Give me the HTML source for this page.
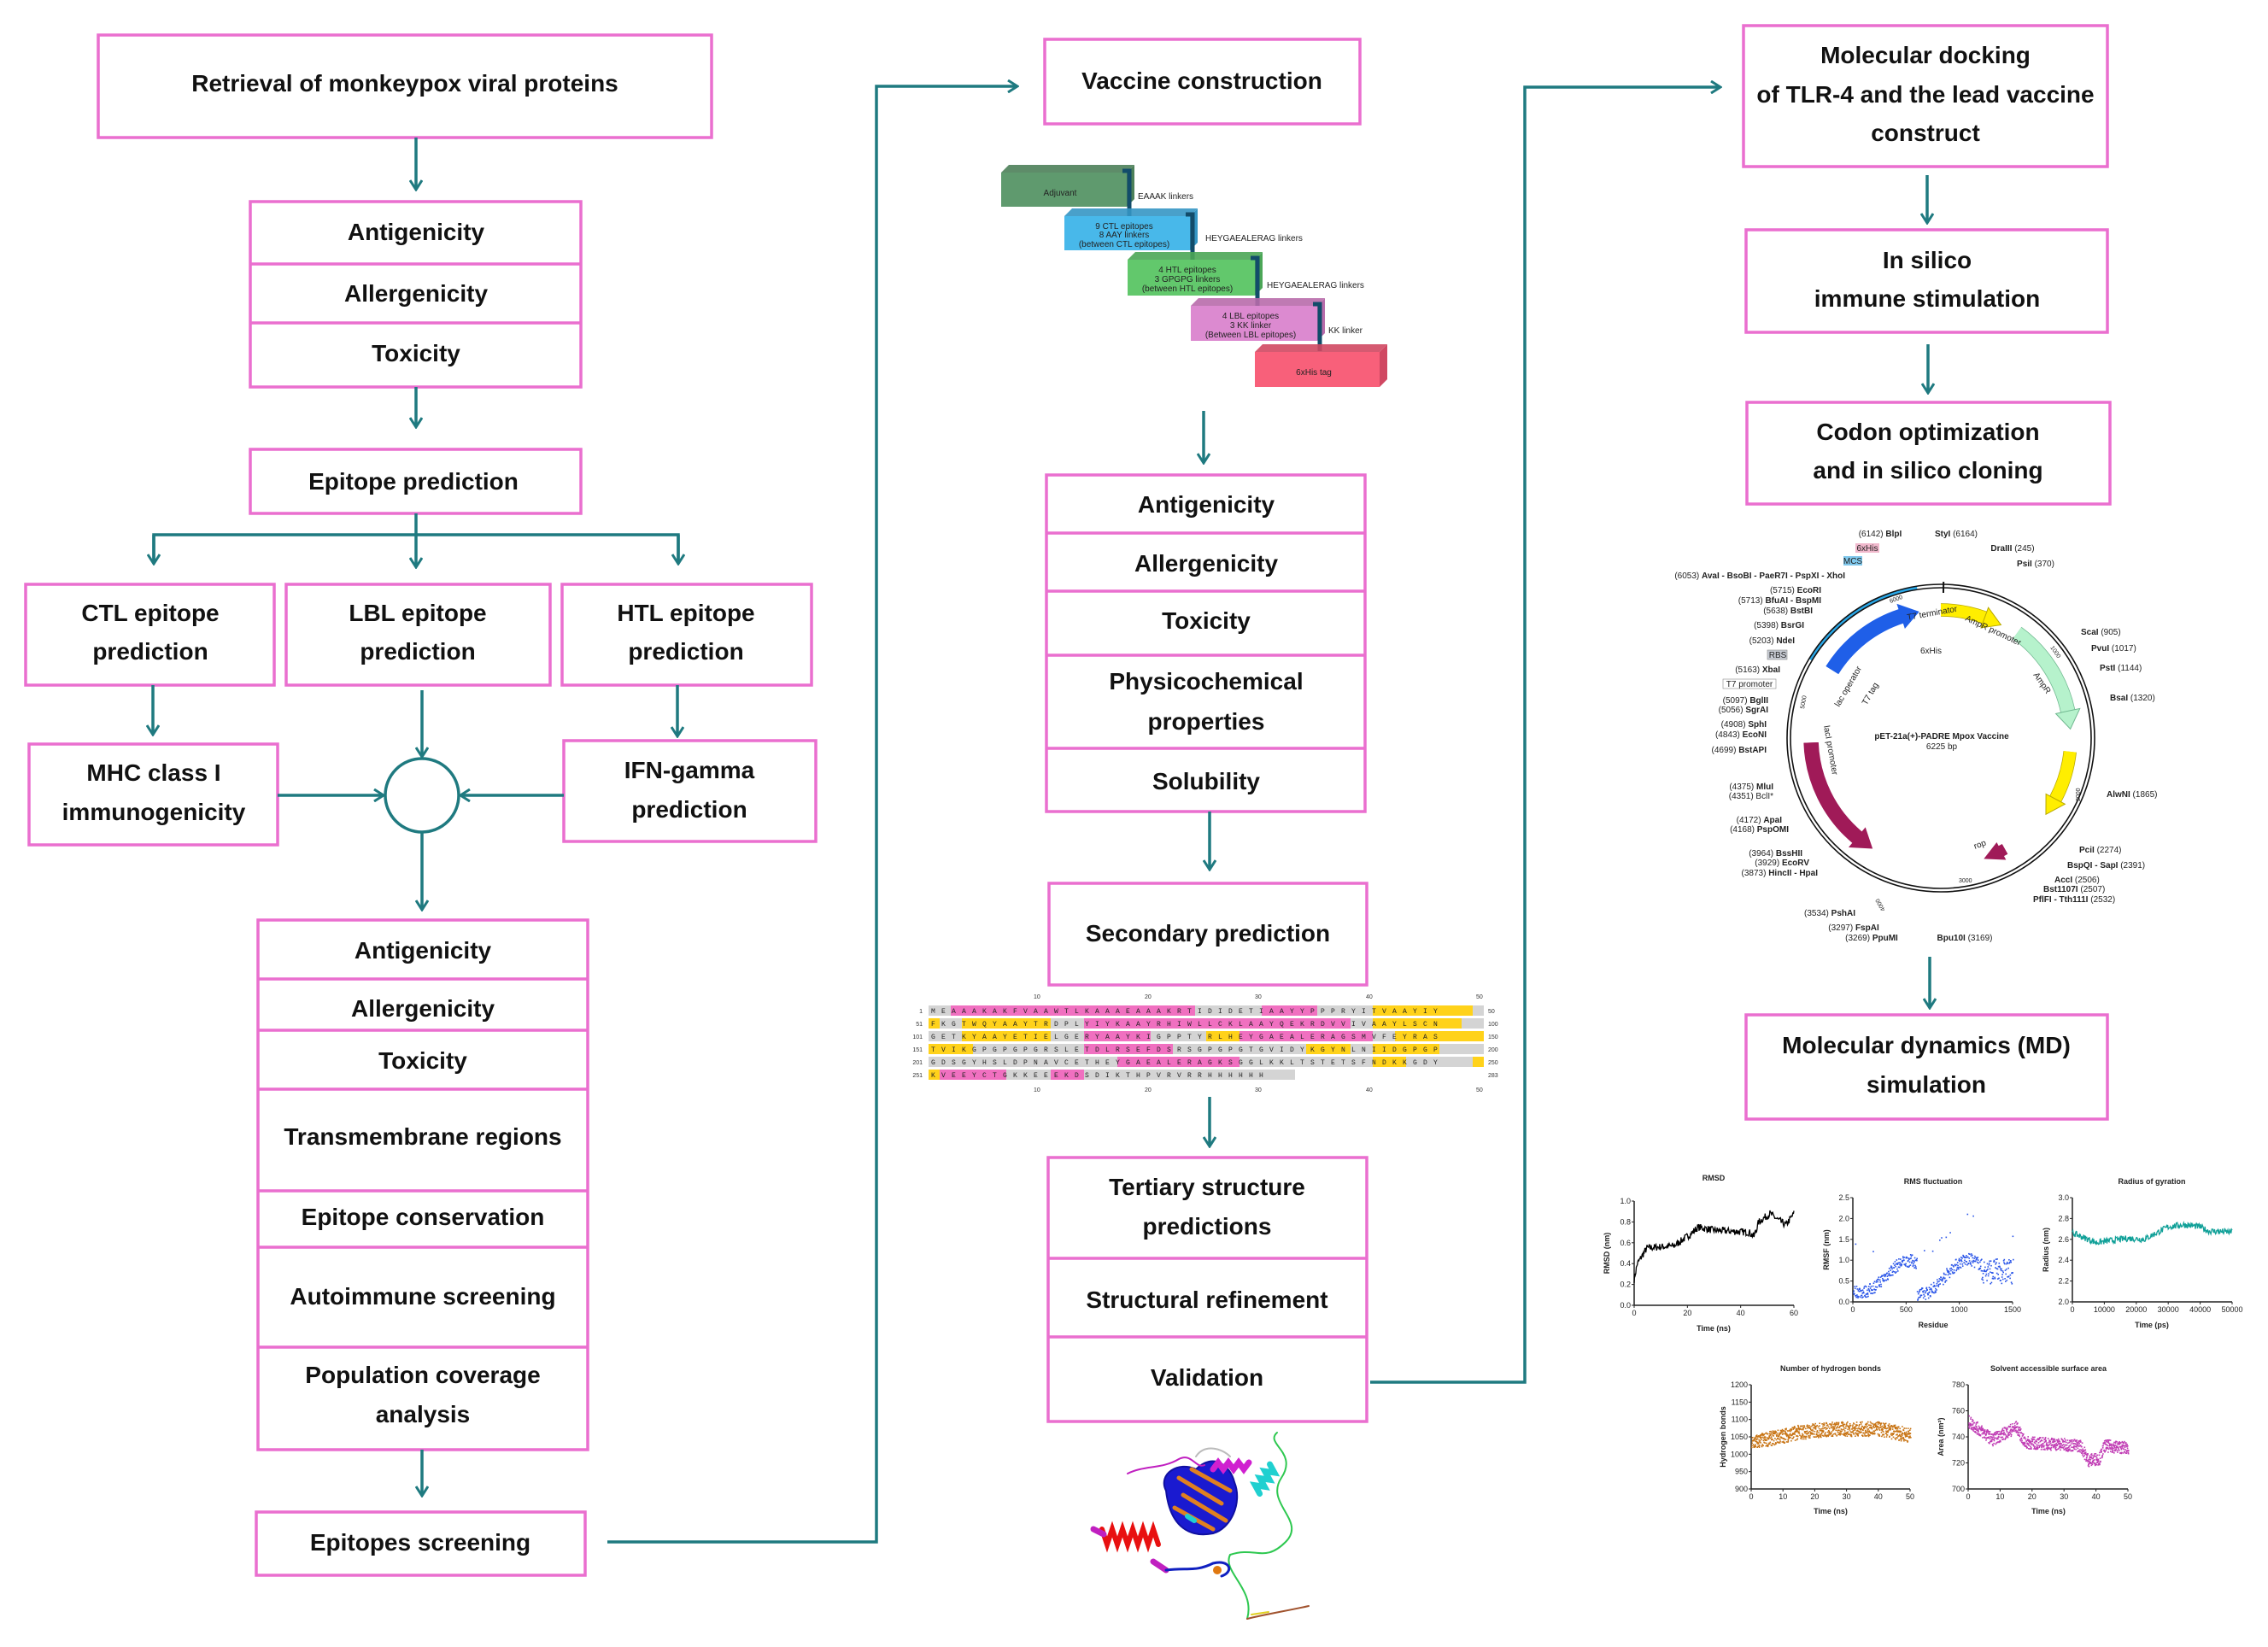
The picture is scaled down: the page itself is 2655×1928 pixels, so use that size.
<!DOCTYPE html>
<html><head><meta charset="utf-8">
<style>
html,body{margin:0;padding:0;background:#fff;}
svg{display:block;}
.b{fill:#fff;stroke:#ea6fcf;stroke-width:3.5;}
.d{stroke:#ea6fcf;stroke-width:3.5;}
.t{font-family:"Liberation Sans",Arial,sans-serif;font-weight:bold;font-size:28px;fill:#111;text-anchor:middle;}
.c{stroke:#1f7a80;stroke-width:3.5;fill:none;}
.s{font-family:"Liberation Sans",Arial,sans-serif;font-size:10px;fill:#222;}
.sb{font-family:"Liberation Sans",Arial,sans-serif;font-size:10px;font-weight:bold;fill:#222;}
.ax{font-family:"Liberation Sans",Arial,sans-serif;font-size:9px;fill:#222;}
.seq{font-family:"Liberation Mono",monospace;font-size:8px;fill:#222;letter-spacing:7.2px;}
.num{font-family:"Liberation Sans",Arial,sans-serif;font-size:7px;fill:#333;}
</style></head>
<body>
<svg id="S" width="2655" height="1928" viewBox="0 0 2655 1928" xmlns="http://www.w3.org/2000/svg">
<defs>
<marker id="a" viewBox="0 0 16 16" refX="14" refY="8" markerWidth="16" markerHeight="16" markerUnits="userSpaceOnUse" orient="auto">
<path d="M3,1 L14,8 L3,15" fill="none" stroke="#1f7a80" stroke-width="3"/>
</marker>
</defs>

<!-- ===== LEFT COLUMN ===== -->
<rect class="b" x="115" y="41" width="718" height="120"/>
<text class="t" x="474" y="107">Retrieval of monkeypox viral proteins</text>
<path class="c" d="M487,161 V222" marker-end="url(#a)"/>

<rect class="b" x="293" y="236" width="387" height="217"/>
<line class="d" x1="293" y1="309" x2="680" y2="309"/>
<line class="d" x1="293" y1="378" x2="680" y2="378"/>
<text class="t" x="487" y="281">Antigenicity</text>
<text class="t" x="487" y="353">Allergenicity</text>
<text class="t" x="487" y="423">Toxicity</text>
<path class="c" d="M487,453 V500" marker-end="url(#a)"/>

<rect class="b" x="293" y="526" width="387" height="75"/>
<text class="t" x="484" y="573">Epitope prediction</text>
<path class="c" d="M487,601 V664" marker-end="url(#a)"/>
<path class="c" d="M180,660 V626 H794 V660" />
<path class="c" d="M180,626 V660" marker-end="url(#a)"/>
<path class="c" d="M794,626 V660" marker-end="url(#a)"/>

<rect class="b" x="30" y="684" width="291" height="118"/>
<text class="t" x="176" y="727">CTL epitope</text>
<text class="t" x="176" y="772">prediction</text>
<rect class="b" x="335" y="684" width="309" height="118"/>
<text class="t" x="489" y="727">LBL epitope</text>
<text class="t" x="489" y="772">prediction</text>
<rect class="b" x="658" y="684" width="292" height="118"/>
<text class="t" x="803" y="727">HTL epitope</text>
<text class="t" x="803" y="772">prediction</text>

<path class="c" d="M179,802 V860" marker-end="url(#a)"/>
<path class="c" d="M494,808 V886" marker-end="url(#a)"/>
<path class="c" d="M793,802 V862" marker-end="url(#a)"/>

<rect class="b" x="34" y="871" width="291" height="118"/>
<text class="t" x="180" y="914">MHC class I</text>
<text class="t" x="180" y="960">immunogenicity</text>
<rect class="b" x="660" y="867" width="295" height="118"/>
<text class="t" x="807" y="911">IFN-gamma</text>
<text class="t" x="807" y="957">prediction</text>

<circle class="c" cx="494" cy="931" r="43"/>
<path class="c" d="M325,931 H449" marker-end="url(#a)"/>
<path class="c" d="M660,931 H539" marker-end="url(#a)"/>
<path class="c" d="M494,974 V1065" marker-end="url(#a)"/>

<rect class="b" x="302" y="1077" width="386" height="620"/>
<line class="d" x1="302" y1="1146" x2="688" y2="1146"/>
<line class="d" x1="302" y1="1206" x2="688" y2="1206"/>
<line class="d" x1="302" y1="1275" x2="688" y2="1275"/>
<line class="d" x1="302" y1="1394" x2="688" y2="1394"/>
<line class="d" x1="302" y1="1460" x2="688" y2="1460"/>
<line class="d" x1="302" y1="1577" x2="688" y2="1577"/>
<text class="t" x="495" y="1122">Antigenicity</text>
<text class="t" x="495" y="1190">Allergenicity</text>
<text class="t" x="495" y="1251">Toxicity</text>
<text class="t" x="495" y="1340">Transmembrane regions</text>
<text class="t" x="495" y="1434">Epitope conservation</text>
<text class="t" x="495" y="1527">Autoimmune screening</text>
<text class="t" x="495" y="1619">Population coverage</text>
<text class="t" x="495" y="1665">analysis</text>
<path class="c" d="M494,1697 V1751" marker-end="url(#a)"/>

<rect class="b" x="300" y="1770" width="385" height="74"/>
<text class="t" x="492" y="1815">Epitopes screening</text>
<path class="c" d="M711,1805 H1026 V101 H1191" marker-end="url(#a)"/>

<!-- ===== MIDDLE COLUMN ===== -->
<rect class="b" x="1223" y="46" width="369" height="99"/>
<text class="t" x="1407" y="104">Vaccine construction</text>

<g id="vb"></g>
<text class="s" x="1332" y="233" font-size="8">EAAAK linkers</text>
<text class="s" x="1411" y="282" font-size="8">HEYGAEALERAG linkers</text>
<text class="s" x="1483" y="337" font-size="8">HEYGAEALERAG linkers</text>
<text class="s" x="1555" y="390" font-size="8">KK linker</text>
<text class="s" x="1241" y="229" font-size="8" text-anchor="middle">Adjuvant</text>
<text class="s" x="1316" y="268" font-size="7" text-anchor="middle">9 CTL epitopes</text>
<text class="s" x="1316" y="278" font-size="7" text-anchor="middle">8 AAY linkers</text>
<text class="s" x="1316" y="289" font-size="7" text-anchor="middle">(between CTL epitopes)</text>
<text class="s" x="1390" y="319" font-size="7" text-anchor="middle">4 HTL epitopes</text>
<text class="s" x="1390" y="330" font-size="7" text-anchor="middle">3 GPGPG linkers</text>
<text class="s" x="1390" y="341" font-size="7" text-anchor="middle">(between HTL epitopes)</text>
<text class="s" x="1464" y="373" font-size="7" text-anchor="middle">4 LBL epitopes</text>
<text class="s" x="1464" y="384" font-size="7" text-anchor="middle">3 KK linker</text>
<text class="s" x="1464" y="395" font-size="7" text-anchor="middle">(Between LBL epitopes)</text>
<text class="s" x="1538" y="439" font-size="7" text-anchor="middle">6xHis tag</text>

<path class="c" d="M1409,481 V542" marker-end="url(#a)"/>

<rect class="b" x="1225" y="556" width="373" height="394"/>
<line class="d" x1="1225" y1="624" x2="1598" y2="624"/>
<line class="d" x1="1225" y1="692" x2="1598" y2="692"/>
<line class="d" x1="1225" y1="767" x2="1598" y2="767"/>
<line class="d" x1="1225" y1="876" x2="1598" y2="876"/>
<text class="t" x="1412" y="600">Antigenicity</text>
<text class="t" x="1412" y="669">Allergenicity</text>
<text class="t" x="1412" y="736">Toxicity</text>
<text class="t" x="1412" y="807">Physicochemical</text>
<text class="t" x="1412" y="854">properties</text>
<text class="t" x="1412" y="924">Solubility</text>
<path class="c" d="M1416,950 V1018" marker-end="url(#a)"/>

<rect class="b" x="1228" y="1034" width="372" height="119"/>
<text class="t" x="1414" y="1102">Secondary  prediction</text>

<g id="sq"></g>
<g class="num">
<text x="1210" y="1169">10</text><text x="1340" y="1169">20</text><text x="1469" y="1169">30</text><text x="1599" y="1169">40</text><text x="1728" y="1169">50</text>
<text x="1210" y="1278">10</text><text x="1340" y="1278">20</text><text x="1469" y="1278">30</text><text x="1599" y="1278">40</text><text x="1728" y="1278">50</text>
<text x="1080" y="1186" text-anchor="end">1</text><text x="1080" y="1201" text-anchor="end">51</text><text x="1080" y="1216" text-anchor="end">101</text><text x="1080" y="1231" text-anchor="end">151</text><text x="1080" y="1246" text-anchor="end">201</text><text x="1080" y="1261" text-anchor="end">251</text>
<text x="1742" y="1186">50</text><text x="1742" y="1201">100</text><text x="1742" y="1216">150</text><text x="1742" y="1231">200</text><text x="1742" y="1246">250</text><text x="1742" y="1261">283</text>
</g>
<g class="seq">
<text x="1090" y="1186">MEAAAKAKFVAAWTLKAAAEAAAKRTIDIDETIAAYYPPPRYITVAAYIY</text>
<text x="1090" y="1201">FKGTWQYAAYTRDPLYIYKAAYRHIWLLCKLAAYQEKRDVVIVAAYLSCN</text>
<text x="1090" y="1216">GETKYAAYETIELGERYAAYKIGPPTYRLHEYGAEALERAGSMVFEYRAS</text>
<text x="1090" y="1231">TVIKGPGPGPGRSLETDLRSEFDSRSGPGPGTGVIDYKGYNLNIIDGPGP</text>
<text x="1090" y="1246">GDSGYHSLDPNAVCETHEYGAEALERAGKSGGLKKLTSTETSFNDKKGDY</text>
<text x="1090" y="1261">KVEEYCTGKKEEEKDSDIKTHPVRVRRHHHHHH</text>
</g>

<path class="c" d="M1416,1284 V1342" marker-end="url(#a)"/>

<rect class="b" x="1227" y="1355" width="373" height="309"/>
<line class="d" x1="1227" y1="1473" x2="1600" y2="1473"/>
<line class="d" x1="1227" y1="1565" x2="1600" y2="1565"/>
<text class="t" x="1413" y="1399">Tertiary structure</text>
<text class="t" x="1413" y="1445">predictions</text>
<text class="t" x="1413" y="1531">Structural refinement</text>
<text class="t" x="1413" y="1622">Validation</text>
<path class="c" d="M1604,1618 H1785 V102 H2014" marker-end="url(#a)"/>

<!-- protein -->
<g fill="none" stroke-linecap="round">
<path d="M1495,1677 C1480,1690 1520,1700 1500,1730 C1480,1760 1530,1780 1505,1805 C1480,1830 1470,1810 1440,1820 C1430,1840 1470,1860 1460,1895" stroke="#2ec850" stroke-width="2"/>
<path d="M1460,1895 C1480,1890 1510,1885 1532,1880" stroke="#a0522d" stroke-width="2"/>
<path d="M1465,1890 L1485,1887" stroke="#e0d020" stroke-width="2"/>
<path d="M1290,1790 l6,18 l6,-18 l6,18 l6,-18 l6,18 l6,-18 l6,18 l6,-18 l6,18 l6,-18 l6,18" stroke="#e81010" stroke-width="6"/>
<path d="M1280,1790 l12,6 M1350,1828 l15,10" stroke="#c020c0" stroke-width="7"/>
<path d="M1365,1838 C1390,1835 1400,1840 1420,1830 C1440,1825 1445,1840 1430,1845" stroke="#1020c0" stroke-width="3"/>
<circle cx="1425" cy="1838" r="5" fill="#e07810"/>
<path d="M1365,1745 C1355,1725 1380,1710 1400,1720 C1420,1700 1440,1715 1445,1735 C1455,1760 1440,1790 1420,1795 C1395,1800 1370,1790 1365,1745Z" fill="#1a1ad0" stroke="#1010a0" stroke-width="2"/>
<path d="M1380,1730 L1430,1760 M1385,1750 L1435,1780 M1375,1765 L1420,1790 M1395,1720 L1440,1745" stroke="#e08020" stroke-width="5"/>
<path d="M1320,1725 C1340,1715 1360,1720 1380,1708 C1395,1700 1400,1720 1410,1715" stroke="#c020c0" stroke-width="2"/>
<path d="M1420,1720 l6,-8 l6,8 l6,-8 l6,8 l6,-8 l6,8 l6,-8" stroke="#d020d0" stroke-width="7"/>
<path d="M1465,1740 l5,-10 l5,10 l5,-10 l5,10 l5,-10 l5,10 l5,-10" stroke="#20d0d0" stroke-width="7" transform="rotate(-55 1478 1735)"/>
<path d="M1400,1705 C1410,1690 1430,1695 1440,1705" stroke="#bbbbbb" stroke-width="2"/>
<path d="M1390,1775 l8,5" stroke="#20d0d0" stroke-width="6"/>
</g>

<!-- ===== RIGHT COLUMN ===== -->
<rect class="b" x="2041" y="30" width="426" height="165"/>
<text class="t" x="2254" y="74">Molecular docking</text>
<text class="t" x="2254" y="120">of TLR-4 and the lead vaccine</text>
<text class="t" x="2254" y="165">construct</text>
<path class="c" d="M2256,205 V261" marker-end="url(#a)"/>
<rect class="b" x="2044" y="269" width="423" height="120"/>
<text class="t" x="2256" y="314">In silico</text>
<text class="t" x="2256" y="359">immune stimulation</text>
<path class="c" d="M2257,403 V460" marker-end="url(#a)"/>
<rect class="b" x="2045" y="471" width="425" height="119"/>
<text class="t" x="2257" y="515">Codon optimization</text>
<text class="t" x="2257" y="560">and in silico cloning</text>

<g id="pl"></g>
<circle cx="2272" cy="864" r="176" fill="none" stroke="#111" stroke-width="1.6"/>
<circle cx="2272" cy="864" r="180" fill="none" stroke="#111" stroke-width="1.6"/>
<text x="2273" y="865" class="sb" font-size="11" text-anchor="middle">pET-21a(+)-PADRE Mpox Vaccine</text>
<text x="2273" y="877" class="s" font-size="8" text-anchor="middle">6225 bp</text>
<g class="s" font-size="9">
<text x="2201" y="628" text-anchor="middle">(6142) <tspan font-weight="bold">BlpI</tspan></text>
<text x="2290" y="628" text-anchor="middle"><tspan font-weight="bold">StyI</tspan> (6164)</text>
<text x="2356" y="645" text-anchor="middle"><tspan font-weight="bold">DraIII</tspan> (245)</text>
<text x="2383" y="663" text-anchor="middle"><tspan font-weight="bold">PsiI</tspan> (370)</text>
<rect x="2172" y="636" width="28" height="11" fill="#f0b8cc"/><text x="2186" y="645" text-anchor="middle">6xHis</text>
<rect x="2158" y="651" width="22" height="11" fill="#80c8ec"/><text x="2169" y="660" text-anchor="middle">MCS</text>
<text x="2160" y="677" text-anchor="end">(6053) <tspan font-weight="bold">AvaI - BsoBI - PaeR7I - PspXI - XhoI</tspan></text>
<text x="2132" y="694" text-anchor="end">(5715) <tspan font-weight="bold">EcoRI</tspan></text>
<text x="2132" y="706" text-anchor="end">(5713) <tspan font-weight="bold">BfuAI - BspMI</tspan></text>
<text x="2122" y="718" text-anchor="end">(5638) <tspan font-weight="bold">BstBI</tspan></text>
<text x="2112" y="735" text-anchor="end">(5398) <tspan font-weight="bold">BsrGI</tspan></text>
<text x="2101" y="753" text-anchor="end">(5203) <tspan font-weight="bold">NdeI</tspan></text>
<rect x="2069" y="761" width="23" height="11" fill="#c8ccd4" stroke="#888" stroke-width=".6"/><text x="2081" y="770" text-anchor="middle">RBS</text>
<text x="2084" y="787" text-anchor="end">(5163) <tspan font-weight="bold">XbaI</tspan></text>
<rect x="2017" y="795" width="62" height="11" fill="#fff" stroke="#888" stroke-width=".6"/><text x="2048" y="804" text-anchor="middle">T7 promoter</text>
<text x="2070" y="823" text-anchor="end">(5097) <tspan font-weight="bold">BglII</tspan></text>
<text x="2070" y="834" text-anchor="end">(5056) <tspan font-weight="bold">SgrAI</tspan></text>
<text x="2068" y="851" text-anchor="end">(4908) <tspan font-weight="bold">SphI</tspan></text>
<text x="2068" y="863" text-anchor="end">(4843) <tspan font-weight="bold">EcoNI</tspan></text>
<text x="2068" y="881" text-anchor="end">(4699) <tspan font-weight="bold">BstAPI</tspan></text>
<text x="2076" y="924" text-anchor="end">(4375) <tspan font-weight="bold">MluI</tspan></text>
<text x="2076" y="935" text-anchor="end">(4351) BclI*</text>
<text x="2086" y="963" text-anchor="end">(4172) <tspan font-weight="bold">ApaI</tspan></text>
<text x="2094" y="974" text-anchor="end">(4168) <tspan font-weight="bold">PspOMI</tspan></text>
<text x="2110" y="1002" text-anchor="end">(3964) <tspan font-weight="bold">BssHII</tspan></text>
<text x="2118" y="1013" text-anchor="end">(3929) <tspan font-weight="bold">EcoRV</tspan></text>
<text x="2128" y="1025" text-anchor="end">(3873) <tspan font-weight="bold">HincII - HpaI</tspan></text>
<text x="2142" y="1072" text-anchor="middle">(3534) <tspan font-weight="bold">PshAI</tspan></text>
<text x="2170" y="1089" text-anchor="middle">(3297) <tspan font-weight="bold">FspAI</tspan></text>
<text x="2191" y="1101" text-anchor="middle">(3269) <tspan font-weight="bold">PpuMI</tspan></text>
<text x="2300" y="1101" text-anchor="middle"><tspan font-weight="bold">Bpu10I</tspan> (3169)</text>
<text x="2380" y="1056"><tspan font-weight="bold">PflFI - Tth111I</tspan> (2532)</text>
<text x="2392" y="1044"><tspan font-weight="bold">Bst1107I</tspan> (2507)</text>
<text x="2405" y="1033"><tspan font-weight="bold">AccI</tspan> (2506)</text>
<text x="2420" y="1016"><tspan font-weight="bold">BspQI - SapI</tspan> (2391)</text>
<text x="2434" y="998"><tspan font-weight="bold">PciI</tspan> (2274)</text>
<text x="2466" y="933"><tspan font-weight="bold">AlwNI</tspan> (1865)</text>
<text x="2470" y="820"><tspan font-weight="bold">BsaI</tspan> (1320)</text>
<text x="2458" y="785"><tspan font-weight="bold">PstI</tspan> (1144)</text>
<text x="2448" y="762"><tspan font-weight="bold">PvuI</tspan> (1017)</text>
<text x="2436" y="743"><tspan font-weight="bold">ScaI</tspan> (905)</text>
</g>
<g class="s" font-size="8">
<text x="2233" y="726" transform="rotate(-10 2233 726)">T7 terminator</text>
<text x="2248" y="765">6xHis</text>
<text x="2300" y="726" transform="rotate(25 2300 726)">AmpR promoter</text>
<text x="2380" y="790" transform="rotate(55 2380 790)">AmpR</text>
<text x="2153" y="828" transform="rotate(-60 2153 828)">lac operator</text>
<text x="2185" y="826" transform="rotate(-60 2185 826)">T7 tag</text>
<text x="2135" y="850" transform="rotate(80 2135 850)">lacI promoter</text>
<text x="2312" y="994" transform="rotate(-20 2312 994)">rop</text>
<text x="2207" y="1065" transform="rotate(-120 2207 1065)" font-size="7">4000</text>
<text x="2112" y="830" transform="rotate(-80 2112 830)" font-size="7">5000</text>
<text x="2213" y="706" transform="rotate(-20 2213 706)" font-size="7">6000</text>
<text x="2400" y="758" transform="rotate(55 2400 758)" font-size="7">1000</text>
<text x="2435" y="938" transform="rotate(-90 2435 938)" font-size="7">2000</text>
<text x="2293" y="1033" font-size="7">3000</text>
</g>

<path class="c" d="M2259,1120 V1180" marker-end="url(#a)"/>
<rect class="b" x="2044" y="1188" width="423" height="122"/>
<text class="t" x="2255" y="1233" font-size="29">Molecular dynamics (MD)</text>
<text class="t" x="2255" y="1279" font-size="29">simulation</text>

<g id="ch" stroke="#222" stroke-width="1" fill="none"></g>
<g class="ax" font-weight="bold" text-anchor="middle">
<text x="2006" y="1382">RMSD</text>
<text x="2263" y="1386">RMS fluctuation</text>
<text x="2519" y="1386">Radius of gyration</text>
<text x="2143" y="1605">Number of hydrogen bonds</text>
<text x="2398" y="1605">Solvent accessible surface area</text>
<text x="2006" y="1558">Time (ns)</text>
<text x="2263" y="1554">Residue</text>
<text x="2519" y="1554">Time (ps)</text>
<text x="2143" y="1772">Time (ns)</text>
<text x="2398" y="1772">Time (ns)</text>
<text transform="translate(1884 1467) rotate(-90)">RMSD (nm)</text>
<text transform="translate(2141 1463) rotate(-90)">RMSF (nm)</text>
<text transform="translate(2398 1463) rotate(-90)">Radius (nm)</text>
<text transform="translate(2020 1682) rotate(-90)">Hydrogen bonds</text>
<text transform="translate(2275 1682) rotate(-90)">Area (nm²)</text>
</g>
<g id="ticks" class="ax" font-size="8"></g>
</svg>

<script>
(function(){
var NS='http://www.w3.org/2000/svg';
function el(p,tag,at){var e=document.createElementNS(NS,tag);for(var k in at)e.setAttribute(k,at[k]);p.appendChild(e);return e;}
var vb=document.getElementById('vb');
var blocks=[[1172,202,147,40,'#5f9a6e','#4c8059'],[1246,253,147,40,'#48b8ea','#3596c4'],[1320,304,149,42,'#62c86c','#4ba657'],[1394,358,148,41,'#dc8ad0','#b86cab'],[1469,412,146,41,'#f8607a','#d04862']];
blocks.forEach(function(b,i){var x=b[0],y=b[1],w=b[2],h=b[3],d=9;
 el(vb,'path',{d:'M'+x+','+y+' l'+d+','+(-d)+' h'+w+' l'+(-d)+','+d+'z',fill:b[5],opacity:.9});
 el(vb,'path',{d:'M'+(x+w)+','+y+' l'+d+','+(-d)+' v'+h+' l'+(-d)+','+d+'z',fill:b[5]});
 el(vb,'rect',{x:x,y:y,width:w,height:h,fill:b[4]});
 if(i<4){el(vb,'path',{d:'M'+(x+w-5)+','+(y-2)+' h8 v'+(h+14),stroke:'#124c6a','stroke-width':5,fill:'none'});}
});
var rows=['ggppppppppppppppppppppppggggggpppppgggggyyyyyyyyy','yggyyyyyyyygggppppppppppppppppppppppppggyyyyyyyyggg','gggyyyyyyyygggppppppgggggyyyppppppppppppggyyyyyyyy','yyyyggggggggggppppppppggggggggggggyyyyggyyyyyygggggg','gggggggggggggggggpppppppppppggggggggggggyyyggggggy','yppppppggggpppgggggggggggggggggg'];
var lens=[50,50,50,50,50,33];
var sq=document.getElementById('sq'),col={g:'#d4d4d4',p:'#f070c0',y:'#ffd21a'};
for(var r=0;r<6;r++){for(var i=0;i<lens[r];i++){var c=rows[r][i]||'g';el(sq,'rect',{x:1087+i*13,y:1177+r*15,width:13,height:12,fill:col[c]});}}
var pl=document.getElementById('pl'),cx=2272,cy=864;
function P(r,a){a=a*Math.PI/180;return [cx+r*Math.sin(a),cy-r*Math.cos(a)];}
function arcD(r,a0,a1){var p0=P(r,a0),p1=P(r,a1),lg=Math.abs(a1-a0)>180?1:0,sw=a1>a0?1:0;return 'M'+p0[0].toFixed(1)+','+p0[1].toFixed(1)+' A'+r+','+r+' 0 '+lg+','+sw+' '+p1[0].toFixed(1)+','+p1[1].toFixed(1);}
function feat(r,a0,a1,w,fill,stroke){var dir=a1>a0?1:-1,head=8*dir,ab=a1-head;
 el(pl,'path',{d:arcD(r,a0,ab),stroke:stroke||fill,'stroke-width':w+1.5,fill:'none'});
 el(pl,'path',{d:arcD(r,a0,ab),stroke:fill,'stroke-width':w,fill:'none'});
 var q1=P(r+w*0.9,ab),q2=P(r-w*0.9,ab),q3=P(r,a1);
 el(pl,'path',{d:'M'+q1+' L'+q3+' L'+q2+'Z',fill:fill,stroke:stroke||fill,'stroke-width':1});}
el(pl,'path',{d:arcD(178,-59,-9),stroke:'#2aa8e8','stroke-width':5,fill:'none'});
feat(150,-58,-10,16,'#1f5fe8');
feat(150,0,28,14,'#ffee00','#b8a800');
feat(152,36,86,16,'#b6f2cc','#70b890');
feat(152,96,126,14,'#ffee00','#b8a800');
feat(150,150,160,12,'#a01a58');
feat(152,268,212,16,'#a01a58');
el(pl,'path',{d:'M'+P(183,1)+' L'+P(170,1),stroke:'#111','stroke-width':2});
var ch=document.getElementById('ch'),tk=document.getElementById('ticks');
var seed=7;function rnd(){seed=(seed*16807)%2147483647;return seed/2147483647;}
function axes(x0,x1,y0,y1,xl,yl){el(ch,'path',{d:'M'+x0+','+y1+' V'+y0+' H'+x1,'stroke-width':1.5});
 xl.forEach(function(t,i){var x=x0+(x1-x0)*i/(xl.length-1);el(ch,'line',{x1:x,y1:y0,x2:x,y2:y0+3});var e=el(tk,'text',{x:x,y:y0+12,'text-anchor':'middle'});e.textContent=t;});
 yl.forEach(function(t,i){var y=y0-(y0-y1)*i/(yl.length-1);el(ch,'line',{x1:x0-3,y1:y,x2:x0,y2:y});var e=el(tk,'text',{x:x0-4,y:y+3,'text-anchor':'end'});e.textContent=t;});}
function series(x0,x1,y0,y1,n,f,color,dots){var d='';for(var i=0;i<=n;i++){var t=i/n,v=f(t);var x=x0+(x1-x0)*t,y=y0-(y0-y1)*Math.max(0,Math.min(1,v));
 if(dots){el(ch,'rect',{x:x.toFixed(1),y:y.toFixed(1),width:1.6,height:1.6,fill:color,stroke:'none'});}else d+=(i?'L':'M')+x.toFixed(1)+','+y.toFixed(1);}
 if(!dots)el(ch,'path',{d:d,stroke:color,'stroke-width':1.3});}
function lerp(pts,t){for(var i=1;i<pts.length;i++){if(t<=pts[i][0]){var a=pts[i-1],b=pts[i];return a[1]+(b[1]-a[1])*(t-a[0])/(b[0]-a[0]);}}return pts[pts.length-1][1];}
axes(1913,2100,1528,1406,['0','20','40','60'],['0.0','0.2','0.4','0.6','0.8','1.0']);
series(1913,2100,1528,1406,300,function(t){return lerp([[0,.25],[.02,.4],[.08,.55],[.25,.57],[.35,.68],[.4,.75],[.5,.72],[.72,.7],[.75,.66],[.78,.8],[.85,.88],[.9,.82],[.95,.77],[1,.88]],t)+(rnd()-.5)*.07;},'#000');
axes(2169,2356,1524,1402,['0','500','1000','1500'],['0.0','0.5','1.0','1.5','2.0','2.5']);
series(2169,2356,1524,1402,500,function(t){var b=t<.4?.1+.3*Math.pow(Math.sin(Math.PI*(t-.05)/.6),2):(t<.8?.08+.33*Math.pow(Math.sin(Math.PI*(t-.42)/.6),2):.3);return b+(rnd()-.5)*.12*(t>.8?2:1)+(rnd()<.01?.4:0);},'#2a55e8',true);
axes(2426,2613,1524,1402,['0','10000','20000','30000','40000','50000'],['2.0','2.2','2.4','2.6','2.8','3.0']);
series(2426,2613,1524,1402,300,function(t){return lerp([[0,.66],[.15,.57],[.35,.61],[.45,.6],[.6,.72],[.7,.74],[.8,.72],[.85,.68],[1,.67]],t)+(rnd()-.5)*.06;},'#10a098');
axes(2050,2236,1743,1621,['0','10','20','30','40','50'],['900','950','1000','1050','1100','1150','1200']);
series(2050,2236,1743,1621,900,function(t){return lerp([[0,.45],[.3,.55],[.5,.58],[.8,.58],[1,.52]],t)+(rnd()-.5)*.14;},'#c87414',true);
axes(2304,2491,1743,1621,['0','10','20','30','40','50'],['700','720','740','760','780']);
series(2304,2491,1743,1621,900,function(t){return lerp([[0,.65],[.15,.48],[.3,.6],[.35,.45],[.5,.44],[.7,.42],[.75,.28],[.82,.3],[.85,.42],[1,.4]],t)+(rnd()-.5)*.12;},'#c03cb4',true);
})();
</script>
</body></html>
